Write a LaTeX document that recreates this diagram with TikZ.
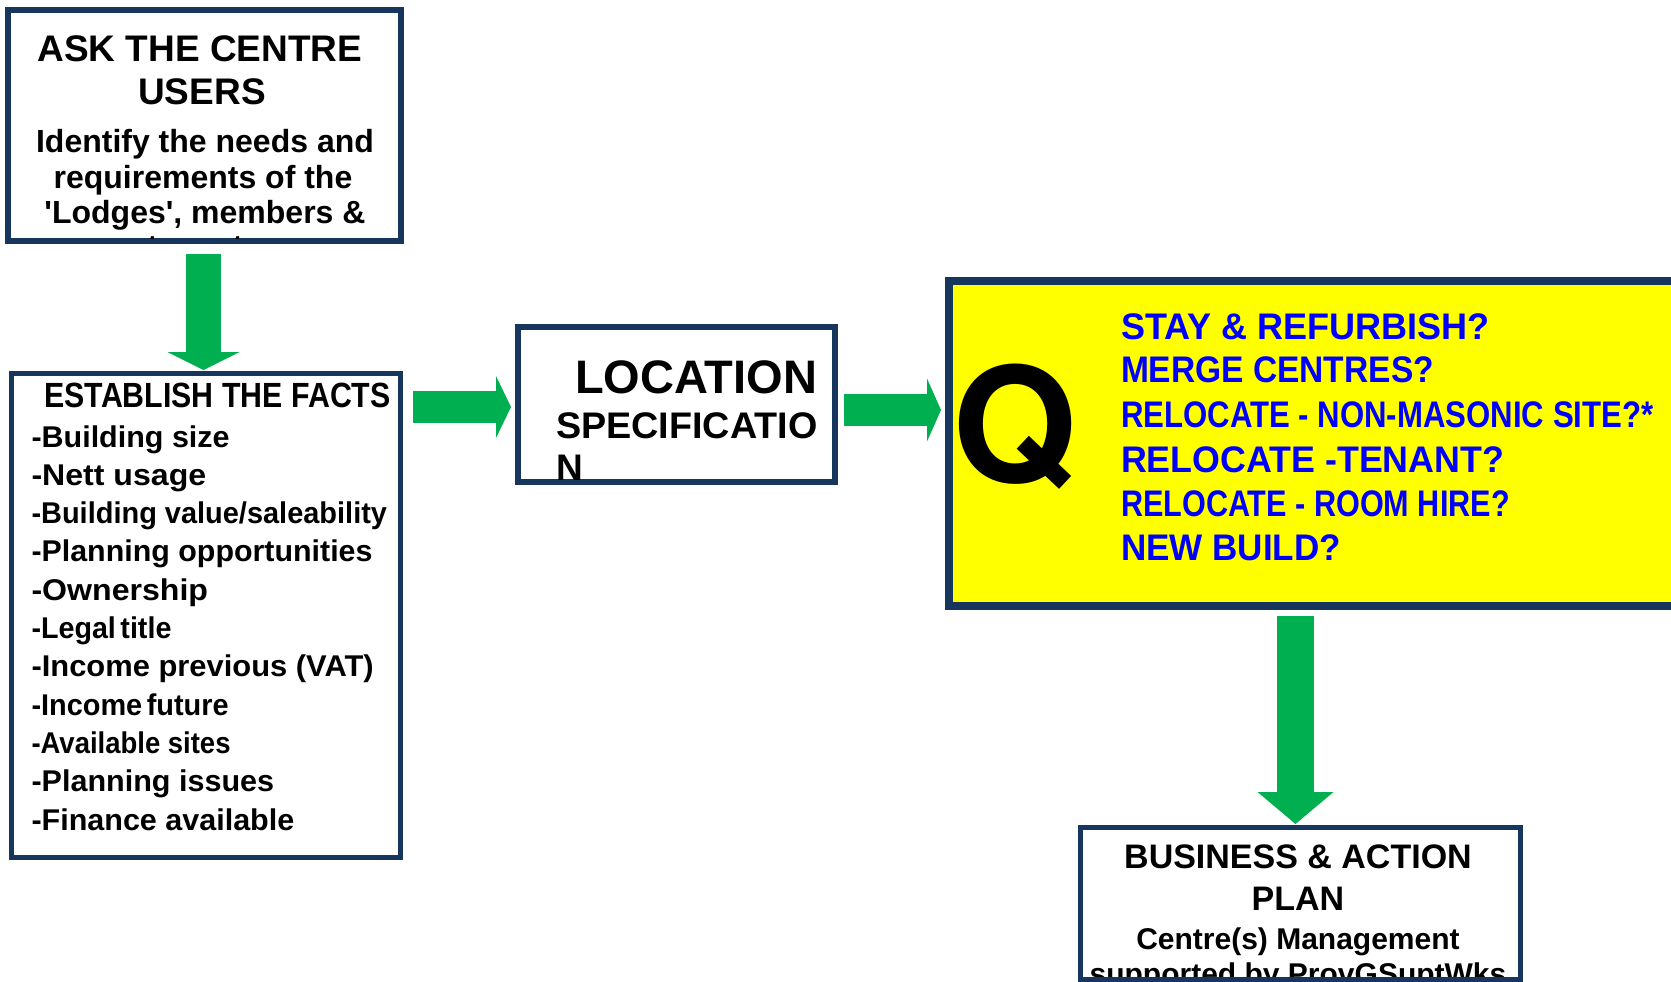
\documentclass[tikz,border=0pt]{standalone}
\usepackage{fontspec}
\setmainfont{Liberation Sans}[Ligatures=TeXOff]
\newfontfamily\qfont{TeX Gyre Heros}
\usepackage{graphicx}
\usetikzlibrary{arrows.meta,calc}

\definecolor{navy}{RGB}{23,54,93}
\definecolor{arrowgreen}{RGB}{0,176,80}
\definecolor{qyellow}{RGB}{255,255,0}
\definecolor{qblue}{RGB}{0,0,255}

\newcommand{\fsz}[1]{\fontsize{#1}{#1}\selectfont}
\newcommand{\squeeze}[2]{\scalebox{#1}[1]{#2}}

\tikzset{
  box/.style={draw=navy, rectangle, outer sep=0pt, inner sep=0pt},
  txt/.style={anchor=base, inner sep=0pt, outer sep=0pt, font=\bfseries},
  txtl/.style={anchor=base west, inner sep=0pt, outer sep=0pt, font=\bfseries},
  flow/.style={draw=arrowgreen, line cap=butt},
}

\begin{document}
\begin{tikzpicture}[x=1pt,y=-1pt]
\useasboundingbox (0,0) rectangle (1671,982);
\clip (0,0) rectangle (1671,982);

% boxes
\node[box, line width=6pt, minimum width=393pt, minimum height=231pt] (ask) at (204.5,125.5) {};
\node[box, line width=5pt, minimum width=389pt, minimum height=484pt] (facts) at (205.5,615) {};
\node[box, line width=5.5pt, minimum width=317pt, minimum height=155pt] (loc) at (676.5,404.5) {};
\node[box, line width=8pt, fill=qyellow, minimum width=751pt, minimum height=325pt] (q) at (1324.5,443) {};
\node[box, line width=5pt, minimum width=440pt, minimum height=152pt] (plan) at (1300,903) {};

% text of the first box
\begin{scope}
\clip ($(ask.north west)+(3,3)$) rectangle ($(ask.south east)+(-3,-3)$);
\node[txt] (ask1) at (200,62) {\fsz{37}ASK THE CENTRE};
\node[txt] (ask2) at (202,104) {\fsz{37}USERS};
\node[txt] (ask3) at (205,152) {\fsz{32}Identify the needs and};
\node[txt] (ask4) at (203,188) {\fsz{32}requirements of the};
\node[txt] (ask5) at (205,223) {\fsz{32}'Lodges', members \&};
\node[txt] (ask6) at (204,257) {\fsz{32}tenants};
\end{scope}

% facts list
\node[txt] (factstitle) at (217.5,407) {\squeeze{0.866}{\fsz{35}ESTABLISH THE FACTS}};
\foreach \t/\s [count=\i] in {-Building size/1.016,-Nett usage/1.07,-Building value\slash saleability/0.965,-Planning opportunities/1.013,-Ownership/1.07,-Legal\kern-0.12em\ title/0.956,-Income previous (VAT)/1.03,-Income\kern-0.12em\ future/0.963,-Available sites/0.916,-Planning issues/1.018,-Finance available/1.017}{
  \node[txtl] (fact\i) at (31.5,{447+38.3*(\i-1)}) {\squeeze{\s}{\fsz{30}\t}};
}

% location specification
\begin{scope}
\clip ($(loc.north west)+(2.75,2.75)$) rectangle ($(loc.south east)+(-2.75,-2.75)$);
\node[txt] (loc1) at (696,393) {\fsz{47}LOCATION};
\node[txtl] (loc2) at (556,438) {\squeeze{1.02}{\fsz{37}SPECIFICATIO}};
\node[txtl] (loc3) at (556,480) {\fsz{37}N};
\end{scope}

% options
\node[txtl] (qmark) at (952,482) {\qfont\fsz{160}Q};
\node[txtl, text=qblue] (opt1) at (1121,339) {\squeeze{0.974}{\fsz{37}STAY \& REFURBISH?}};
\node[txtl, text=qblue] (opt2) at (1121,382) {\squeeze{0.906}{\fsz{37}MERGE CENTRES?}};
\node[txtl, text=qblue] (opt3) at (1121,427) {\squeeze{0.842}{\fsz{37}RELOCATE - NON-MASONIC SITE?*}};
\node[txtl, text=qblue] (opt4) at (1121,472) {\squeeze{0.968}{\fsz{37}RELOCATE -TENANT?}};
\node[txtl, text=qblue] (opt5) at (1121,516) {\squeeze{0.827}{\fsz{37}RELOCATE - ROOM HIRE?}};
\node[txtl, text=qblue] (opt6) at (1121,560) {\squeeze{0.947}{\fsz{37}NEW BUILD?}};

% plan
\begin{scope}
\clip ($(plan.north west)+(2.5,2.5)$) rectangle ($(plan.south east)+(-2.5,-2.5)$);
\node[txt] (plan1) at (1298,868) {\fsz{34}BUSINESS \& ACTION};
\node[txt] (plan2) at (1298,910) {\fsz{34}PLAN};
\node[txt] (plan3) at (1298,949) {\fsz{30}Centre(s) Management};
\node[txt] (plan4) at (1298,984) {\fsz{30}supported by ProvGSuptWks};
\end{scope}

% green flow arrows
\draw[flow, line width=35pt, -{Triangle[length=18pt,width=72pt,line width=0pt]}, shorten <=13pt, shorten >=3pt]
  ($(ask.south)+(-1,0)$) -- ($(ask.south |- facts.north)+(-1,0)$);
\draw[flow, line width=32pt, -{Triangle[length=15pt,width=62pt,line width=0pt]}, shorten <=13pt, shorten >=7pt]
  ($(facts.east |- loc.west)+(0,2.5)$) -- ($(loc.west)+(0,2.5)$);
\draw[flow, line width=32pt, -{Triangle[length=14pt,width=63pt,line width=0pt]}, shorten <=9pt, shorten >=8pt]
  ($(loc.east)+(0,5.5)$) -- ($(loc.east -| q.west)+(0,5.5)$);
\draw[flow, line width=37pt, -{Triangle[length=32pt,width=76pt,line width=0pt]}, shorten <=10pt, shorten >=3pt]
  ($(q.south -| plan.north)+(-4.5,0)$) -- ($(plan.north)+(-4.5,0)$);
\end{tikzpicture}
\end{document}
